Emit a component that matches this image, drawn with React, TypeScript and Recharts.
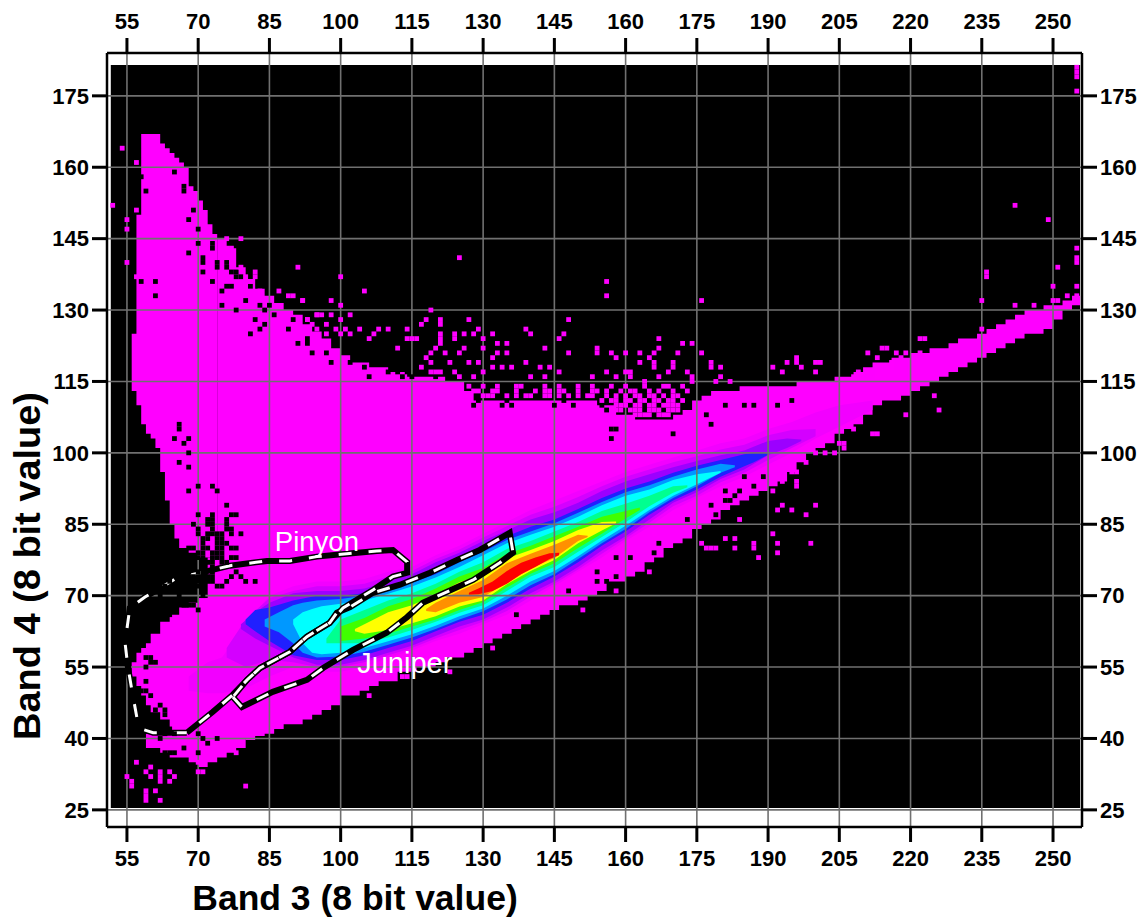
import { ComposedChart, Area, Line, Scatter, XAxis, YAxis, ReferenceLine, ReferenceDot } from "recharts";

const xTicks = [55, 70, 85, 100, 115, 130, 145, 160, 175, 190, 205, 220, 235, 250];
const yTicks = [25, 40, 55, 70, 85, 100, 115, 130, 145, 160, 175];

type Row = [number, number, number];

const blackRows: Row[] = [[51.6, 25.4, 181.5], [100, 25.4, 181.5], [255.7, 25.4, 181.5]];

// outer magenta shape: plume at top left, foot at bottom left, long diagonal band
const plumeRows: Row[] = [
  [56, 113, 125], [57, 110, 150], [58, 106, 167], [59, 104, 167], [60, 103, 167], [61, 101, 167], [62, 96, 165], [63, 90, 164], [64, 85, 163], [65, 82, 162],
  [66, 80, 161], [67, 80, 160], [68, 79, 156], [69, 79, 155], [70, 78, 153], [71, 78, 151], [72, 78, 148], [73, 78, 146], [74, 78, 145],
];
const footRows: Row[] = [
  [59, 38, 41], [60, 38, 41], [62, 37, 41], [64, 36, 42], [66, 36, 42], [68, 35, 42], [70, 34, 42], [72, 35, 42], [74, 36, 42], [76, 37, 42], [78, 38, 42], [80, 39, 42],
];
const bandRows: Row[] = [
  [56, 53, 56], [57, 51, 58], [58, 49, 59], [59, 47, 60], [60, 45.5, 62], [62, 44, 64.5], [64, 42, 66], [66, 41, 67.5], [68, 40.5, 68.5], [70, 40.3, 69.5], [72, 40, 78],
  [74, 40, 145], [76, 40, 143], [78, 39.8, 139], [80, 39.7, 136.5], [82, 40.5, 134.5], [84, 41, 133], [86, 42, 131.5], [88, 43, 130], [90, 43, 129], [92, 44, 127],
  [94, 45, 125.5], [96, 46, 124], [98, 47, 122], [100, 49, 120.5], [102, 49, 119], [104, 50, 119], [106, 51, 118], [108, 52, 118], [110, 52, 117], [112, 54, 117],
  [114, 54, 116], [116, 55, 116], [118, 55, 116], [120, 56, 116], [122, 57, 115], [124, 57, 115], [126, 58, 113], [128, 59, 111], [130, 60, 111], [132, 61, 111],
  [134, 62, 111], [136, 63, 111], [138, 64, 111], [140, 65, 111], [142, 66, 111], [144, 67, 111], [146, 68, 111], [148, 68, 111], [150, 69, 111], [152, 70, 111],
  [154, 71, 110], [156, 73, 110], [158, 73, 108], [160, 74, 108], [162, 75, 107], [164, 77, 107], [166, 78, 107], [168, 80, 107], [170, 81, 108], [172, 82, 109],
  [174, 84, 111], [176, 85, 112], [178, 86, 113], [180, 88, 113], [182, 89, 113], [184, 90, 114], [186, 91, 114], [188, 92, 114], [190, 93, 114], [192, 94, 114],
  [194, 96, 114], [196, 98, 115], [198, 100, 115], [200, 101, 115], [202, 102, 115], [204, 104, 116], [206, 105, 116], [208, 106, 117], [210, 108, 118], [212, 110, 119],
  [214, 111, 119], [216, 111, 120], [218, 112, 120], [220, 113, 121], [222, 114, 121], [224, 115, 122], [226, 116, 122], [228, 117, 123], [230, 118, 124], [232, 119, 124],
  [234, 120, 125], [236, 121, 126], [238, 122, 127], [240, 123, 128], [242, 124, 129], [244, 125, 130], [246, 125, 130], [248, 126, 131], [250, 128, 131], [252, 130, 132],
  [254, 131, 133], [255.7, 132, 134],
];

// density levels, lowest first
const faintRows: Row[] = [
  [68, 50, 53], [72, 49.5, 56], [75, 49.5, 57], [80, 50.5, 64], [85, 53, 70], [90, 55, 72], [95, 54, 73], [100, 54, 73], [105, 55, 73.5], [110, 57, 75], [115, 58.5, 76],
  [120, 60.5, 78.5], [125, 62, 80.5], [130, 64, 83], [135, 66, 85.5], [140, 69, 88], [145, 72, 90], [150, 75, 92], [155, 78, 94], [160, 81.5, 96],
  [165, 84.5, 97.5], [170, 88, 99], [175, 90.5, 100.5], [180, 93, 102], [185, 95, 103], [190, 97.5, 105], [195, 100, 106.5], [200, 103, 108.5], [205, 105.5, 110], [212, 109, 111],
];
const violetRows: Row[] = [
  [76, 57, 59], [80, 55, 65], [85, 56.5, 69.5], [90, 56, 71], [95, 55, 72], [100, 55, 72], [105, 56, 72.5], [110, 57.5, 74], [115, 59, 75.2], [120, 61, 77.7],
  [125, 62.8, 79.7], [130, 64.5, 82.2], [135, 66.8, 84.6], [140, 69.8, 87], [145, 72.5, 88.7], [150, 75.5, 90.7], [155, 78.8, 93], [160, 82, 95], [165, 85.3, 96.5],
  [170, 88.8, 98], [175, 91, 99.3], [180, 93.8, 100.7], [185, 95.8, 101.7], [190, 98.5, 103.7], [195, 101, 104.8], [200, 103.5, 105],
];
const purpleRows: Row[] = [
  [79, 63, 64], [82, 61, 66.5], [85, 59.5, 68.5], [90, 57, 70.5], [95, 55.5, 71], [100, 55.5, 71], [105, 56.5, 71.5], [110, 58, 73], [115, 59.5, 74.5], [120, 61.5, 77],
  [125, 63.5, 79], [130, 65, 81.5], [135, 67.5, 83.7], [140, 70.5, 86], [145, 73, 87.5], [150, 76, 89.5], [155, 79.5, 92], [160, 82.5, 94], [165, 86, 95.5],
  [170, 89.5, 97], [175, 91.7, 98.3], [180, 94.5, 99.5], [185, 96.5, 100.5], [190, 99.5, 102.5], [194, 101, 103], [197, 102.5, 102.8],
];
const blueRows: Row[] = [
  [80, 64, 65], [82, 62.5, 67], [85, 60.5, 67.5], [90, 57.5, 69], [95, 56.5, 70], [100, 56.5, 70], [105, 57.5, 70.5], [110, 59, 72], [115, 60.5, 73.5], [120, 62.5, 75.5],
  [125, 64.5, 78], [130, 66, 80], [135, 68.5, 82.5], [140, 71.5, 84.5], [145, 74, 86], [150, 77, 88.2], [155, 80.5, 90.5], [160, 83.5, 92.5], [165, 87, 94],
  [170, 90, 95.8], [175, 92.3, 97.3], [180, 95, 98.5], [185, 97.2, 99.7], [187, 98, 100], [190, 99.6, 100.2],
];
const azureRows: Row[] = [
  [84, 63.5, 65], [87, 62.3, 66.5], [90, 60, 68], [92, 58, 68.5], [95, 57, 69], [100, 57.2, 69.3], [105, 58.2, 70], [110, 59.7, 71.2], [115, 61.2, 72.7], [120, 63, 74.5],
  [125, 65, 77], [130, 66.7, 79.2], [135, 69.2, 81.7], [140, 72.2, 83.5], [145, 74.5, 85.2], [150, 77.7, 87.4], [155, 81, 89.7], [160, 84, 91.7],
  [165, 87.5, 93.2], [170, 90.5, 95], [175, 93, 96.5], [180, 95.8, 97.7], [183, 97, 97.4],
];
const cyanRows: Row[] = [
  [90, 64, 65], [92, 60, 66.5], [94, 58, 67.2], [96, 57.7, 67.8], [100, 58, 68.3], [105, 59, 69], [110, 60.4, 70.4], [115, 61.9, 71.9], [120, 63.7, 73.8], [125, 65.7, 76],
  [130, 67.3, 78.5], [135, 70, 81], [140, 73, 82.8], [145, 75.2, 84.5], [150, 78.3, 86.6], [155, 81.6, 89], [160, 84.7, 91], [165, 88, 92.3], [170, 91, 94.3],
  [175, 93.4, 95.5], [180, 95.8, 96.2],
];
const springRows: Row[] = [
  [97, 60, 61], [100, 60, 65], [105, 60, 67], [110, 61.2, 69], [115, 62.8, 70.5], [120, 64.5, 72.5], [125, 66.4, 75], [130, 68, 77], [135, 71, 79.8],
  [140, 74, 81.5], [145, 76, 83.5], [150, 79.2, 85.5], [155, 82.3, 87.8], [160, 85.4, 89.3], [165, 88.8, 91], [170, 91.6, 93], [173, 92.8, 93.2],
];
const greenRows: Row[] = [
  [100, 60.5, 63.5], [105, 61, 65.3], [110, 62, 67.8], [115, 63.5, 69.3], [120, 65, 71.5], [125, 67, 74], [130, 68.6, 75.8], [135, 71.7, 78.8],
  [140, 74.6, 80.5], [145, 76.8, 82.5], [150, 80, 84.5], [155, 83, 86.6], [160, 86.2, 87.8], [163, 88, 88.5],
];
const yellowRows: Row[] = [
  [103, 62.5, 63], [105, 62, 64], [110, 62.8, 66.5], [115, 64.2, 68], [120, 65.7, 70.2], [125, 67.7, 72.8], [130, 69, 74.5], [135, 72.4, 77.8], [140, 75.2, 79.6],
  [145, 77.5, 81.5], [150, 81, 83.8], [155, 83.7, 85.5], [158, 85.2, 85.6],
];
const orangeRows: Row[] = [
  [118, 66.8, 67.2], [120, 66.5, 68.5], [125, 68.5, 71], [130, 69.7, 73.3], [135, 72.7, 76.8], [140, 75.7, 78.8], [145, 77.9, 80.7], [150, 81.5, 82.8], [152, 82.3, 82.6],
];
const redRows: Row[] = [
  [127, 70.2, 70.6], [129, 70.3, 71.5], [132, 71, 73], [135, 72.5, 75.2], [138, 74.5, 76.9], [141, 76, 78], [144, 77.7, 78.9], [146, 78.5, 79],
];

const levels: [Row[], string][] = [
  [faintRows, "#f200ff"], [violetRows, "#d400ff"], [purpleRows, "#9c00ff"], [blueRows, "#2020ff"], [azureRows, "#0098ff"], [cyanRows, "#00ffff"],
  [springRows, "#00ff90"], [greenRows, "#40ff00"], [yellowRows, "#ffff00"], [orangeRows, "#ff9000"], [redRows, "#ff0000"],
];

// single magenta cells outside the solid shape
const strays: [number, number][] = [
  [54, 164], [57, 161], [52, 152], [57, 151], [55, 149], [55, 147], [55, 140], [57, 137], [91, 139], [79, 145], [76, 145], [89, 133], [90, 133], [87, 134],
  [75, 144], [72, 144], [77, 143], [76, 143], [79, 139], [77, 140], [80, 137], [82, 138], [82, 137], [81, 136], [83, 134], [92, 132], [95, 129], [93, 128],
  [105, 134], [100, 137], [92, 132], [98, 132], [100, 131], [119, 130], [93, 128], [95, 129], [96, 129], [98, 129], [100, 128], [102, 129], [97, 127], [94, 127], [95, 126], [99, 126], [97, 125],
  [118, 128], [117, 127], [121, 128], [121, 127], [127, 128], [148, 128], [156, 136], [156, 133], [125, 141], [104, 126], [110, 126], [114, 126], [108, 126],
  [107, 125], [101, 126], [102, 125], [100, 125], [139, 126], [140, 125], [129, 126], [128, 125], [126, 125], [132, 125], [147, 125], [121, 125], [121, 124],
  [121, 123], [124, 125], [124, 124], [146, 124], [130, 124], [114, 124], [115, 124], [116, 124], [106, 124], [130, 122], [133, 123], [135, 123], [133, 121],
  [135, 121], [126, 122], [125, 121], [143, 122], [148, 121], [154, 122], [154, 121], [157, 121], [160, 121], [158, 120], [122, 121], [112, 122], [120, 122],
  [119, 121], [118, 120], [123, 119], [127, 119], [129, 119], [132, 120], [139, 119], [119, 119], [117, 118], [142, 118], [144, 118], [132, 118], [134, 118],
  [136, 118], [156, 117], [146, 117], [160, 117], [130, 117], [124, 117], [119, 117], [120, 117], [121, 117], [153, 116], [158, 116], [140, 116], [143, 116],
  [125, 116], [128, 116], [176, 132], [167, 124], [172, 123], [174, 123], [163, 121], [166, 121], [171, 121], [176, 121], [167, 122], [165, 120], [163, 119],
  [166, 119], [166, 118], [170, 119], [170, 118], [169, 117], [178, 119], [178, 118], [180, 118], [173, 117], [161, 117], [161, 116], [167, 116], [180, 116],
  [164, 115], [174, 116], [174, 115], [179, 115], [182, 115], [194, 119], [196, 120], [196, 119], [200, 119], [201, 119], [191, 118], [197, 118],
  [200, 117], [193, 117], [209, 117], [211, 117], [213, 117], [208, 116], [213, 116], [211, 121], [214, 122], [215, 122], [213, 120], [217, 121], [219, 121],
  [218, 120], [216, 119], [216, 118], [222, 124], [223, 124], [222, 121], [235, 132], [236, 138], [236, 137], [251, 139], [250, 135], [255, 140], [255, 135],
  [255, 133], [253, 133], [242, 131], [246, 131], [250, 132], [251, 132], [235, 126], [242, 152], [249, 149], [255, 181], [255, 180], [255, 179], [255, 176],
  [255, 141], [255, 143], [219, 108], [225, 112], [226, 109], [212, 104], [213, 104], [208, 105], [206, 102], [206, 101], [205, 102], [202, 100], [204, 100],
  [200, 100], [198, 98], [195, 97], [195, 96], [196, 96], [193, 94], [196, 94], [196, 93], [191, 92], [200, 89], [193, 89], [192, 88], [195, 88], [198, 87],
  [184, 86], [191, 83], [199, 81], [192, 81], [192, 79], [187, 81], [187, 80], [183, 82], [181, 82], [183, 80], [177, 80], [178, 80], [179, 80], [188, 78],
  [176, 81], [132, 59], [123, 54], [114, 53], [113, 53], [106, 49], [151, 67], [158, 71], [166, 83], [165, 75],
  [59, 27], [59, 28], [62, 27], [59, 29], [61, 29], [55, 32], [56, 31], [56, 30], [57, 35], [59, 33], [60, 34], [60, 32], [62, 33], [62, 32], [62, 31], [64, 31],
  [64, 33], [65, 32], [80, 30], [78, 37], [71, 33], [70, 33], [70, 35], [60, 39],
];

// broken fringe along the top of the wing, grouped by row: [band 4 value, band 3 values]
const fringeGroups: [number, number[]][] = [
  [114, [127, 130, 133, 137, 138, 143, 146, 150, 153, 157, 160, 164, 168, 169, 172]],
  [113, [128, 129, 132, 133, 137, 141, 143, 144, 146, 147, 150, 153, 154, 156, 159, 161, 162, 165, 167, 170, 173]],
  [112, [127, 130, 131, 132, 135, 137, 139, 140, 143, 144, 146, 148, 150, 152, 153, 156, 158, 160, 162, 163, 165, 166, 168, 170, 171]],
  [111, [155, 157, 158, 160, 161, 163, 164, 166, 167, 169, 170, 172]],
  [110, [158, 159, 160, 162, 163, 165, 166, 168, 169, 170, 171]],
  [109, [158, 159, 161, 162, 163, 165, 166, 167, 169, 170, 171]],
  [108, [162, 163, 164, 165, 167, 168, 169]],
];

// black cells punched into the solid shape, grouped by row: [band 4 value, band 3 values]
const holeGroups: [number, number[]][] = [
  [159, [65]], [158, [58]], [156, [67]], [155, [59, 67]], [151, [69]], [149, [68]], [147, [70]], [144, [70, 73]], [143, [73]], [142, [68]],
  [141, [71]], [140, [71, 74, 76]], [139, [74, 76]], [138, [71, 77, 78]], [137, [78, 79]], [136, [58, 61, 73]], [135, [76, 77, 81]], [134, [75]], [133, [61]],
  [132, [80]], [131, [75, 83, 85]], [130, [78, 84]], [129, [86]], [128, [82, 90]], [127, [84]], [126, [83, 89]], [125, [81]], [124, [93]], [123, [91, 93]], [121, [94, 97]],
  [119, [98, 102]], [120, [104]], [118, [105]], [117, [110, 112, 114]], [116, [106, 113, 115, 120]],
  [111, [129, 135, 147, 195]], [110, [128, 134, 136, 145, 149, 155, 181, 185, 187, 192]], [109, [156]], [108, [177]],
  [106, [66, 178]], [105, [66, 158, 157]], [104, [170]], [103, [65, 68, 157]], [102, [67]], [100, [68]], [98, [66]], [97, [68]],
  [95, [185, 189]], [93, [70, 73, 187]], [92, [68, 74, 184, 181]], [91, [183]], [90, [181, 182]], [89, [76, 178]], [87, [70, 73, 77, 78, 182, 179]], [86, [72, 73, 76, 173]], [85, [69, 72, 73, 76]],
  [84, [70, 73, 76, 77]], [83, [70, 72, 73, 74, 75, 77, 79]], [82, [71, 72, 74, 75]], [81, [65, 71, 74, 75, 76, 167]], [80, [63, 68, 69, 71, 72, 74, 75, 77, 78]],
  [79, [62, 63, 64, 70, 71, 73, 74, 75, 166]], [78, [62, 63, 64, 67, 70, 71, 73, 74, 75, 77, 78, 158, 161]], [77, [62, 63, 64, 66, 67, 68, 71, 72, 73, 75, 76]],
  [76, [62, 63, 67, 68, 71, 73]], [75, [62, 63, 68, 70, 71, 73, 78, 154, 165]], [74, [62, 64, 68, 69, 70, 72, 73, 77, 79, 158]], [73, [64, 66, 68, 69, 70, 72, 73, 76, 80, 82, 156, 154]],
  [72, [63, 66, 69, 70, 71, 74, 75]], [71, [64, 71, 148]], [70, [62, 66, 71]], [69, [66]], [68, [63, 64, 67, 68, 69]], [67, [62, 63, 70]], [66, [63, 64, 137]],
  [57, [59, 60]], [56, [60, 61]], [55, [59]], [52, [59]], [50, [58, 59]], [49, [60]], [47, [62]], [46, [61, 63]], [45, [63]], [43, [61, 63]], [42, [64]],
  [41, [63, 65, 70]], [40, [62, 71, 74]], [39, [72]], [38, [67]], [37, [63, 64, 65, 70]],
];

const flatten = (groups: [number, number[]][]) => groups.flatMap(([y, xs]) => xs.map((x) => ({ x, y })));
const strayRows = [...strays.map(([x, y]) => ({ x, y })), ...flatten(fringeGroups)];
const holeRows = flatten(holeGroups);

const pinyonX = [67.6, 60.5, 57.5, 56.3, 55.2, 54.6, 55.6, 58.8, 65.5, 70.4, 76.7, 84.5, 89.3, 95, 101.3, 107.6, 111, 114, 114, 111, 106.8, 100.5, 97.7, 92.9, 89.3, 83, 80.3, 77.3, 73.1, 67.6];
const pinyonY = [41.2, 41.2, 42.2, 48.7, 55, 60.1, 67.4, 69.7, 73.7, 74.8, 76.3, 77.3, 77.3, 78.2, 78.8, 79.4, 79.6, 77.1, 74.8, 74, 71.2, 67.4, 64.3, 61.4, 58.2, 54.8, 52.3, 49.2, 45.6, 41.2];
const juniperX = [77.3, 79.2, 85.7, 92.9, 96.3, 102.6, 109.7, 114, 117.3, 122.4, 127.9, 133.5, 136.3, 135.6, 129.3, 124.5, 118.8, 112.5, 106.8, 102, 99.2, 97.7, 92.9, 89.3, 83, 80.3, 77.3];
const juniperY = [48.7, 46.6, 49.8, 52.3, 54.8, 58.6, 62.2, 65.5, 68.5, 70.8, 73.3, 76.9, 79, 83.2, 79.6, 77.5, 74.8, 72.3, 70.6, 67.6, 66.4, 64.3, 61.4, 58.2, 54.8, 52.3, 48.7];

const FONT = '"Liberation Sans", Arial, sans-serif';
const toRange = (rows: Row[]) => rows.map(([x, lo, hi]) => ({ x, range: [lo, hi] }));
const cell = (fill: string) => (p: any) => <rect x={p.cx - 2.4} y={p.cy - 2.4} width={4.8} height={4.8} fill={fill} />;

const tickStyle = { fill: "#000", fontSize: 22, fontWeight: "bold", fontFamily: FONT };
const axisProps = { type: "number" as const, allowDataOverflow: true, interval: 0 as const, tickSize: 15, tick: tickStyle, tickLine: { stroke: "#000", strokeWidth: 3 }, axisLine: { stroke: "#000", strokeWidth: 2.5 } };
const xDomain: [number, number] = [50.8, 256.1];
const yDomain: [number, number] = [21.4, 184];

function Shape(rows: Row[], fill: string, type: "linear" | "stepAfter") {
  return <Area key={fill + rows[0][0]} xAxisId="bottom" yAxisId="left" data={toRange(rows)} dataKey="range" type={type} fill={fill} fillOpacity={1} stroke="none" dot={false} activeDot={false} isAnimationActive={false} />;
}

export default function App() {
  const outlines = [
    pinyonX.map((x, i) => ({ x, v: pinyonY[i] })),
    juniperX.map((x, i) => ({ x, v: juniperY[i] })),
  ];
  return (
    <div style={{ position: "absolute", left: 0, top: 0, width: 1148, height: 918 }}>
      <ComposedChart width={1148} height={918} margin={{ top: 13, right: 6, bottom: 41, left: 47 }}>
        <XAxis xAxisId="bottom" dataKey="x" orientation="bottom" height={50} domain={xDomain} ticks={xTicks} tickMargin={8} {...axisProps} />
        <XAxis xAxisId="top" dataKey="x" orientation="top" height={40} domain={xDomain} ticks={xTicks} tickMargin={9} {...axisProps} />
        <YAxis yAxisId="left" dataKey="y" orientation="left" width={60} domain={yDomain} ticks={yTicks} tickMargin={3} {...axisProps} />
        <YAxis yAxisId="right" dataKey="y" orientation="right" width={60} domain={yDomain} ticks={yTicks} tickMargin={3} {...axisProps} />

        {Shape(blackRows, "#000", "linear")}
        {Shape(plumeRows, "#ff00ff", "stepAfter")}
        {Shape(footRows, "#ff00fe", "stepAfter")}
        {Shape(bandRows, "#fe00ff", "stepAfter")}
        {levels.map(([rows, fill]) => Shape(rows, fill, "linear"))}

        <Scatter xAxisId="bottom" yAxisId="left" data={holeRows} shape={cell("#000")} isAnimationActive={false} />
        <Scatter xAxisId="bottom" yAxisId="left" data={strayRows} shape={cell("#ff00ff")} isAnimationActive={false} />

        {xTicks.map((t) => <ReferenceLine key={t} xAxisId="bottom" yAxisId="left" x={t} stroke="#707070" strokeWidth={1.6} />)}
        {yTicks.map((t) => <ReferenceLine key={t} xAxisId="bottom" yAxisId="left" y={t} stroke="#707070" strokeWidth={1.6} />)}

        {outlines.map((data, i) => (
          <Line key={"k" + i} xAxisId="bottom" yAxisId="left" data={data} dataKey="v" type="linear" stroke="#000" strokeWidth={6} dot={false} activeDot={false} isAnimationActive={false} />
        ))}
        {outlines.map((data, i) => (
          <Line key={"w" + i} xAxisId="bottom" yAxisId="left" data={data} dataKey="v" type="linear" stroke="#fff" strokeWidth={3} strokeDasharray="13 17" dot={false} activeDot={false} isAnimationActive={false} />
        ))}

        <ReferenceDot xAxisId="bottom" yAxisId="left" x={95} y={81.5} r={0} fill="none" stroke="none" label={{ value: "Pinyon", fill: "#fff", fontSize: 27.5, fontFamily: FONT }} />
        <ReferenceDot xAxisId="bottom" yAxisId="left" x={113.5} y={56} r={0} fill="none" stroke="none" label={{ value: "Juniper", fill: "#fff", fontSize: 29, fontFamily: FONT }} />

        <text x={355} y={910} textAnchor="middle" fontFamily={FONT} fontWeight="bold" fontSize={35.5} fill="#000">Band 3 (8 bit value)</text>
        <text x={40} y={566} textAnchor="middle" transform="rotate(-90 40 566)" fontFamily={FONT} fontWeight="bold" fontSize={36} textLength={348} lengthAdjust="spacingAndGlyphs" fill="#000">Band 4 (8 bit value)</text>
      </ComposedChart>
    </div>
  );
}
